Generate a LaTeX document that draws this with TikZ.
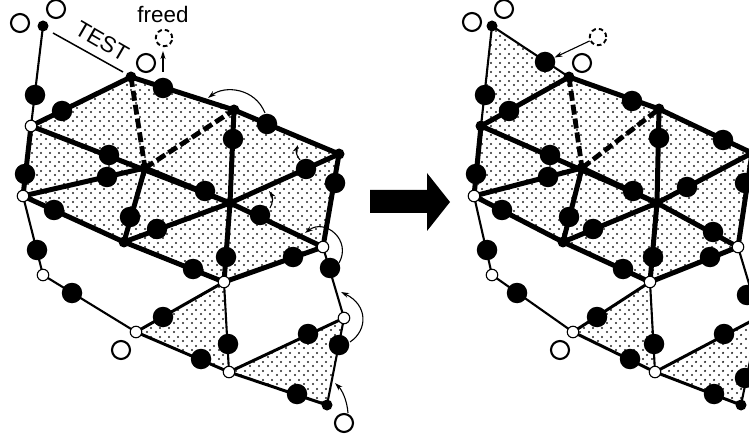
\documentclass[tikz,border=0pt]{standalone}
\usepackage{fontspec}
\setmainfont{Liberation Sans}
\usetikzlibrary{arrows.meta,patterns}
\pgfdeclarepatternformonly{stip}{\pgfqpoint{0pt}{0pt}}{\pgfqpoint{8.5pt}{8.5pt}}{\pgfqpoint{8.5pt}{8.5pt}}{%
  \pgfpathcircle{\pgfqpoint{2.1pt}{2.1pt}}{1.2pt}%
  \pgfpathcircle{\pgfqpoint{6.35pt}{6.35pt}}{1.2pt}%
  \pgfusepath{fill}}
\tikzset{
  x=1pt,y=-1pt,
  shade/.style={pattern=stip,pattern color=black!85},
  heavy/.style={line width=5pt},
  heavydash/.style={line width=4.8pt,dash pattern=on 10pt off 4pt},
  fine/.style={line width=2.1pt},
  mid/.style={line width=3pt},
  bead/.style={circle,fill=black,inner sep=0pt,minimum size=20.5pt},
  dotv/.style={circle,fill=black,inner sep=0pt,minimum size=11pt},
  whitev/.style={circle,draw=black,fill=white,line width=1.1pt,inner sep=0pt,minimum size=11.5pt},
  hollow/.style={circle,draw=black,fill=white,line width=2.1pt,inner sep=0pt,minimum size=18pt},
  freeslot/.style={circle,draw=black,line width=1.9pt,dash pattern=on 4.5pt off 3pt,inner sep=0pt,minimum size=16.5pt},
  move/.style={line width=1.1pt,-{Stealth[length=8pt,width=5pt,inset=2.5pt]}},
  label/.style={font=\fontsize{22.4}{26}\selectfont,inner sep=0pt}
}
\begin{document}
\begin{tikzpicture}
\useasboundingbox (0,0) rectangle (749,438);
\clip (0,0) rectangle (749,438);

% ---------- left panel ----------
\foreach \n/\px/\py in {a/43/26,n1/31/126,n2/23/196,n3/131/77,n4/145/168,n5/234/110,n6/339/154,n7/230/203,n8/323/247,n9/224/282,n10/124/242,n11/43/275,n12/136/332,n13/229/372,n14/344/318,n15/327/405}
  \coordinate (l\n) at (\px,\py);
\fill[shade] (ln1)--(ln3)--(ln5)--(ln6)--(ln8)--(ln9)--(ln10)--(ln2)--cycle;
\fill[shade] (ln12)--(ln9)--(ln13)--cycle;
\fill[shade] (ln13)--(ln14)--(ln15)--cycle;
\draw[fine] (la)--(ln1) (ln2)--(ln11)--(ln12) (ln9)--(ln13) (ln15)--(ln14)--(ln8);
\draw[mid] (ln12)--(ln9) (ln12)--(ln13)--(ln14) (ln13)--(ln15);
\draw[heavy,line join=round] (ln1)--(ln3)--(ln5)--(ln6)--(ln8)--(ln9)--(ln10)--(ln2)--cycle;
\draw[heavy] (ln1)--(ln7)--(ln8) (ln2)--(ln4) (ln4)--(ln10) (ln6)--(ln7)--(ln10) (ln5)--(ln7)--(ln9) (ln4)--(ln7);
\draw[heavydash] (ln3)--(ln4) (ln4)--(ln5);
\foreach \n/\px/\py in {b1/35/95,b2/62/111,b3/163/88,b4/109/155,b5/107/177,b6/25/174,b7/54/210,b8/130/217,b9/267/124,b10/233/139,b11/306/169,b12/335/183,b13/205/191,b14/260/215,b15/226/257,b16/293/257,b17/193/269,b18/330/268,b19/37/250,b20/72/293,b21/163/317,b22/157/229,b23/201/359,b24/228/344,b25/308/334,b26/339/345,b27/297/394}
  \node[bead] (l\n) at (\px,\py) {};
\foreach \n in {a,n3,n4,n5,n6,n7,n10,n15} \node[dotv] (lv\n) at (l\n) {};
\foreach \n in {n1,n2,n8,n9,n11,n12,n13,n14} \node[whitev] (lv\n) at (l\n) {};
\node[hollow] (lh1) at (20,23) {};
\node[hollow] (lh2) at (56,9) {};
\node[hollow] (lh3) at (146,63) {};
\node[hollow] (lh4) at (121,350) {};
\node[hollow] (lh5) at (344,423) {};
\node[freeslot] (lfree) at (164,38) {};
\node[label,anchor=base] (lfreed) at (163,23) {freed};
\coordinate (testa) at (53,33);
\coordinate (testb) at (123,72);
\draw[line width=1.5pt] (testa)--(testb);
\node[label,rotate=-30] (ltest) at (102,41) {TEST};
\coordinate (fa) at (163,72);
\coordinate (fb) at (163,51);
\draw[move] (fa)--(fb);
\coordinate (c1a) at (265,113); \coordinate (c1b) at (208,98);
\draw[move] (c1a) .. controls (255,88) and (225,85) .. (c1b);
\coordinate (c2a) at (300,160); \coordinate (c2b) at (298,145);
\draw[move] (c2a) .. controls (296,156) and (296,150) .. (c2b);
\coordinate (c3a) at (270,208); \coordinate (c3b) at (269,191);
\draw[move] (c3a) .. controls (273,203) and (273,197) .. (c3b);
\coordinate (c4a) at (339,263); \coordinate (c4b) at (305,233);
\draw[move] (c4a) .. controls (352,240) and (325,218) .. (c4b);
\coordinate (c5a) at (350,342); \coordinate (c5b) at (341,292);
\draw[move] (c5a) .. controls (368,330) and (368,305) .. (c5b);
\coordinate (c6a) at (348,413); \coordinate (c6b) at (335,383);
\draw[move] (c6a) .. controls (347,400) and (342,390) .. (c6b);

% ---------- block arrow ----------
\fill[black] (370,190)--(427,190)--(427,173)--(450,202)--(427,231)--(427,213)--(370,213)--cycle;

% ---------- right panel ----------
\foreach \n/\px/\py in {a/492/26,n1/481/126,n2/474/196,n3/569/77,n4/582/168,n5/659/109,n6/752/153,n7/657/203,n8/738/247,n9/650/282,n10/563/242,n11/492/275,n12/573/332,n13/655/372,n14/759/317,n15/741/405}
  \coordinate (r\n) at (\px,\py);
\fill[shade] (ra)--(rn3)--(rn1)--cycle;
\fill[shade] (rn1)--(rn3)--(rn5)--(rn6)--(rn8)--(rn9)--(rn10)--(rn2)--cycle;
\fill[shade] (rn12)--(rn9)--(rn13)--cycle;
\fill[shade] (rn13)--(rn14)--(rn15)--cycle;
\draw[fine] (ra)--(rn1) (ra)--(rn3) (rn2)--(rn11)--(rn12) (rn9)--(rn13) (rn15)--(rn14)--(rn8);
\draw[mid] (rn12)--(rn9) (rn12)--(rn13)--(rn14) (rn13)--(rn15);
\draw[heavy,line join=round] (rn1)--(rn3)--(rn5)--(rn6)--(rn8)--(rn9)--(rn10)--(rn2)--cycle;
\draw[heavy] (rn1)--(rn7)--(rn8) (rn2)--(rn4) (rn4)--(rn10) (rn6)--(rn7)--(rn10) (rn5)--(rn7)--(rn9) (rn4)--(rn7);
\draw[heavydash] (rn3)--(rn4) (rn4)--(rn5);
\foreach \n/\px/\py in {b1/485/95,b2/509/111,b3/545/62,b4/550/155,b5/548/177,b6/476/174,b7/502/210,b8/569/217,b9/632/101,b10/659/138,b11/687/187,b12/745/183,b13/633/191,b14/713/232,b15/653/257,b16/710/257,b17/623/269,b18/747/295,b19/487/250,b20/517/293,b21/597/317,b22/593/229,b23/630/359,b24/654/344,b25/724/334,b26/745/378,b27/714/394,b28/723/140}
  \node[bead] (r\n) at (\px,\py) {};
\foreach \n in {a,n1,n3,n4,n5,n6,n7,n10,n15} \node[dotv] (rv\n) at (r\n) {};
\foreach \n in {n2,n8,n9,n11,n12,n13,n14} \node[whitev] (rv\n) at (r\n) {};
\node[hollow] (rh1) at (472,22) {};
\node[hollow] (rh2) at (504,9) {};
\node[hollow] (rh3) at (582,63) {};
\node[hollow] (rh4) at (560,350) {};
\node[freeslot] (rfree) at (598,37) {};
\draw[move] (rfree) -- (rb3);
\end{tikzpicture}
\end{document}
